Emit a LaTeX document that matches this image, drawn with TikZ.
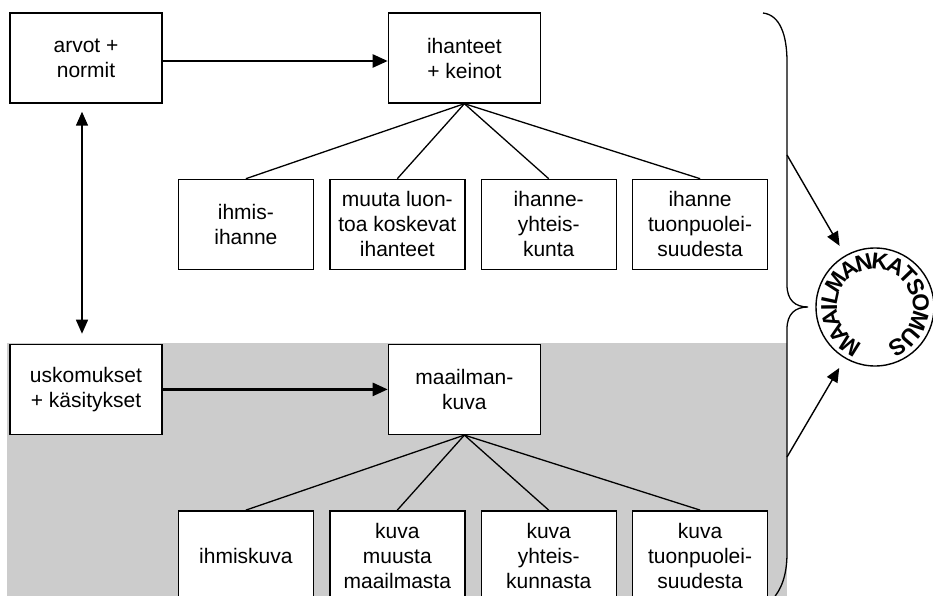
\documentclass[tikz,border=0pt]{standalone}
\usepackage{fontspec}
\setmainfont{Liberation Sans}
\usetikzlibrary{arrows.meta,positioning,decorations.text}
\definecolor{pohja}{gray}{0.80}
\newcommand\kehafontti{\fontsize{23}{23}\selectfont\bfseries}

\begin{document}
\begin{tikzpicture}[x=1pt,y=1pt,font=\fontsize{21}{25}\selectfont,
  node distance=75pt and 15pt,
  iso/.style={draw,line width=1.4pt,fill=white,minimum width=152pt,
              minimum height=90pt,align=center,inner sep=0pt},
  pieni/.style={draw,line width=1.4pt,fill=white,minimum width=135pt,
                minimum height=90pt,align=center,inner sep=0pt},
  ar/.style={-{Triangle[length=15pt,width=13pt]},line width=2.4pt},
  kaksi/.style={{Triangle[length=14pt,width=12pt]}-{Triangle[length=14pt,width=12pt]},line width=1.4pt},
  ar2/.style={-{Triangle[length=14pt,width=12pt]},line width=1.4pt,shorten >=11pt},
  yht/.style={line width=1.3pt}]
\clip (0,0) rectangle (933,-596);
\fill[pohja] (7,-343) rectangle (787,-600);
\node[iso] (arvot) at (86,-58) {arvot +\\normit};
\node[iso,right=225pt of arvot] (ihant) {ihanteet\\+ keinot};
\node[pieni,below right=75pt and 15pt of arvot.south east] (ih1) {ihmis-\\ihanne};
\node[pieni,right=of ih1] (ih2) {muuta luon-\\toa koskevat\\ihanteet};
\node[pieni,right=of ih2] (ih3) {ihanne-\\yhteis-\\kunta};
\node[pieni,right=of ih3] (ih4) {ihanne\\tuonpuolei-\\suudesta};
\node[iso,below=240pt of arvot] (usko) {uskomukset\\+ käsitykset};
\node[iso,right=225pt of usko] (mkuva) {maailman-\\kuva};
\node[pieni,below right=75pt and 15pt of usko.south east] (ku1) {ihmiskuva};
\node[pieni,right=of ku1] (ku2) {kuva\\muusta\\maailmasta};
\node[pieni,right=of ku2] (ku3) {kuva\\yhteis-\\kunnasta};
\node[pieni,right=of ku3] (ku4) {kuva\\tuonpuolei-\\suudesta};
\node[circle,draw,line width=1.4pt,minimum size=118pt,inner sep=0pt] (mk) at (875,-307) {};
\path[decorate,decoration={text along path,text align=center,raise=-8pt,
  text={|\kehafontti|MAAILMANKATSOMUS}}]
  ([shift={(256:46pt)}]mk.center) arc[start angle=256,end angle=-76,radius=46pt];
\draw[ar]([yshift=-3pt]arvot.east)--([yshift=-3pt]ihant.west); \draw[ar](usko)--(mkuva);
\draw[kaksi,shorten <=8pt,shorten >=10pt]([xshift=-4pt]arvot.south)--([xshift=-4pt]usko.north);
\draw[yht](ihant.south)--(ih1.north); \draw[yht](ihant.south)--(ih2.north);
\draw[yht](ihant.south)--(ih3.north); \draw[yht](ihant.south)--(ih4.north);
\draw[yht](mkuva.south)--(ku1.north); \draw[yht](mkuva.south)--(ku2.north);
\draw[yht](mkuva.south)--(ku3.north); \draw[yht](mkuva.south)--(ku4.north);
\draw[yht] (763,-13) .. controls (780,-15) and (787,-35) .. (787,-62) -- (787,-285)
  .. controls (787,-300) and (795,-307) .. (808,-307)
  .. controls (795,-307) and (787,-314) .. (787,-329) -- (787,-553)
  .. controls (787,-576) and (781,-590) .. (772,-600);
\coordinate (y1) at (787,-155); \coordinate (y2) at (787,-457);
\draw[ar2](y1)--(mk); \draw[ar2](y2)--(mk);
\end{tikzpicture}
\end{document}
